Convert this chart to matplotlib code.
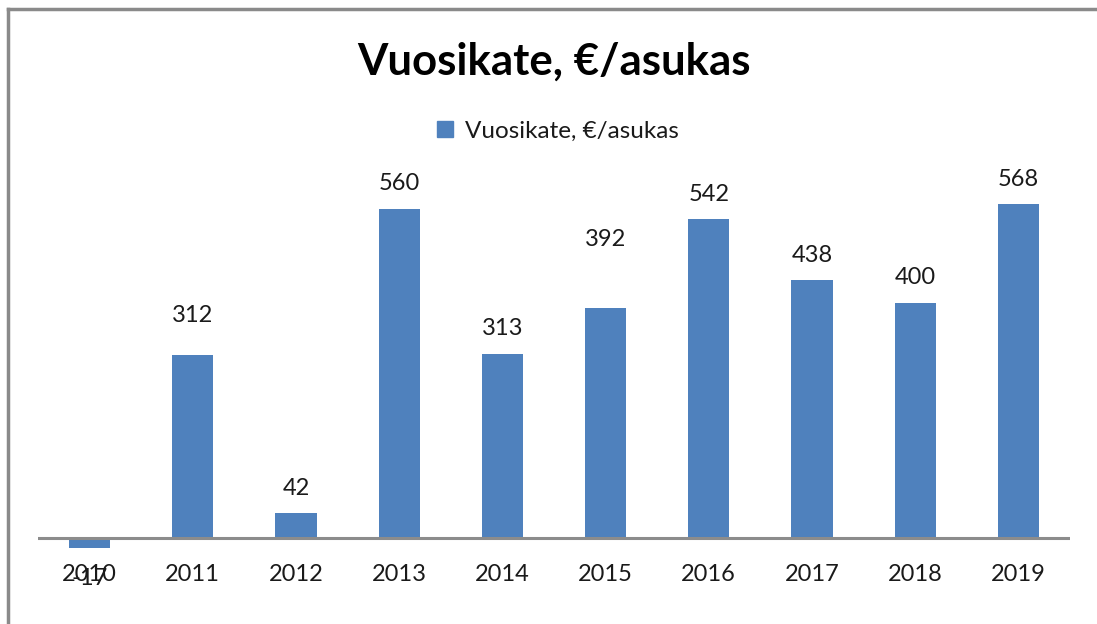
import matplotlib
matplotlib.use("Agg")
import matplotlib.pyplot as plt
from matplotlib.lines import Line2D
from matplotlib.patches import Patch

years = ["2010", "2011", "2012", "2013", "2014", "2015", "2016", "2017", "2018", "2019"]
values = [-17, 312, 42, 560, 313, 392, 542, 438, 400, 568]
label_texts = ["-17", "312", "42", "560", "313", "392", "542", "438", "400", "568"]
series_name = "Vuosikate, €/asukas"
title = "Vuosikate, €/asukas"

# label offsets from bar end, in points (style)
label_offsets = [-22, 28, 18, 18, 18, 49, 18, 18, 18, 18]

plt.rcParams['font.family'] = ['Lato', 'DejaVu Sans']
W, H = 1097, 624
fig = plt.figure(figsize=(W / 100, H / 100), dpi=100)
fig.patch.set_facecolor("white")

ax = fig.add_axes([38 / W, 64 / H, 1032 / W, 400 / H])
color = "#4F81BD"
x = list(range(len(years)))
bars = ax.bar(x, values, width=0.4, color=color, zorder=2)
ax.set_xlim(-0.5, len(years) - 0.5)
ax.set_ylim(-37.4, 642.9)
for s in ax.spines.values():
    s.set_visible(False)
ax.axhline(0, color="#8c8c8c", lw=2.2, zorder=3)
ax.set_yticks([])
ax.set_xticks(x)
ax.set_xticklabels(years, fontsize=17, color="#1a1a1a")
ax.tick_params(axis="x", length=0, pad=3)

for xi, v, t, off in zip(x, values, label_texts, label_offsets):
    ax.annotate(t, (xi, v), xytext=(0, off), textcoords="offset points",
                ha="center", va="center", fontsize=17, color="#1a1a1a")

fig.text(554 / W, 1 - 62 / H, title, ha="center", va="center",
         fontsize=31.5, fontweight="bold", color="black")

handle = Patch(facecolor=color, edgecolor=color)
fig.legend([handle], [series_name], loc="center", bbox_to_anchor=(558 / W, 1 - 131 / H),
           frameon=False, fontsize=17.5, handlelength=0.65, handleheight=0.65,
           handletextpad=0.5, labelcolor="#1a1a1a")

# outer chart border (top and left visible)
fig.add_artist(Line2D([8 / W, 1], [1 - 9 / H, 1 - 9 / H], color="#8a8a8a", lw=2.5,
                      transform=fig.transFigure))
fig.add_artist(Line2D([8 / W, 8 / W], [0, 1 - 9 / H], color="#8a8a8a", lw=2.5,
                      transform=fig.transFigure))

fig.savefig("out.png", dpi=100)
